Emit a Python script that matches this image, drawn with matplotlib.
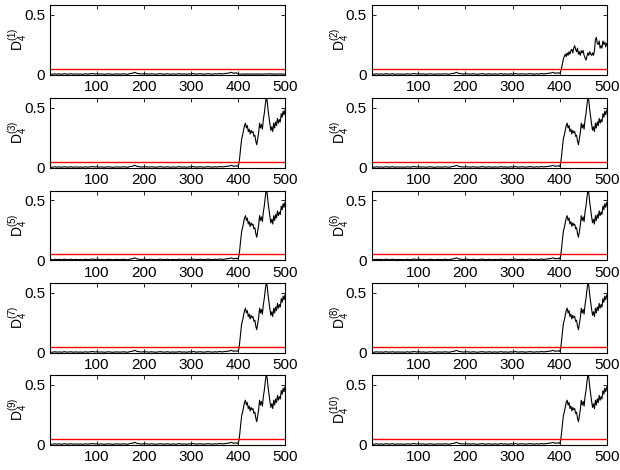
import numpy as np
import matplotlib
matplotlib.use('Agg')
import matplotlib.pyplot as plt

plt.rcParams['font.family'] = ['Liberation Sans', 'DejaVu Sans']
plt.rcParams['mathtext.fontset'] = 'custom'
plt.rcParams['mathtext.rm'] = 'Liberation Sans'
plt.rcParams['mathtext.it'] = 'Liberation Sans'

# sample positions: coarse before the change point, finer after it
x_low = np.arange(1, 400, 5)
x_high = np.arange(400, 501, 2)

# small noise before the change (shared by every panel)
low = [0.004, 0.002, 0.006, 0.003, 0.005, 0.002, 0.007, 0.003, 0.004, 0.006,
       0.002, 0.005, 0.003, 0.004, 0.002, 0.006, 0.003, 0.005, 0.008, 0.004,
       0.007, 0.003, 0.005, 0.002, 0.004, 0.006, 0.003, 0.002, 0.005, 0.004,
       0.003, 0.006, 0.004, 0.002, 0.008, 0.010, 0.018, 0.009, 0.006, 0.004,
       0.007, 0.005, 0.003, 0.006, 0.004, 0.002, 0.005, 0.007, 0.003, 0.004,
       0.006, 0.002, 0.005, 0.003, 0.004, 0.007, 0.003, 0.005, 0.002, 0.006,
       0.004, 0.008, 0.003, 0.005, 0.006, 0.003, 0.004, 0.007, 0.005, 0.003,
       0.006, 0.004, 0.008, 0.005, 0.007, 0.010, 0.012, 0.018, 0.010, 0.014]

tail_1 = [0.006, 0.003, 0.005, 0.002, 0.004, 0.003,
          0.005, 0.002, 0.004, 0.003, 0.006, 0.002, 0.004, 0.003, 0.005, 0.002,
          0.004, 0.003, 0.005, 0.002, 0.006, 0.003, 0.004, 0.002, 0.005, 0.003,
          0.004, 0.002, 0.005, 0.003, 0.004, 0.006, 0.003, 0.005, 0.008, 0.004,
          0.003, 0.005, 0.002, 0.004, 0.003, 0.005, 0.002, 0.004, 0.006, 0.003,
          0.005, 0.002, 0.004, 0.003, 0.005]

tail_2 = [0.01, 0.02, 0.05, 0.09, 0.13, 0.15,
          0.17, 0.15, 0.18, 0.16, 0.19, 0.17, 0.20, 0.21, 0.18, 0.22,
          0.24, 0.21, 0.19, 0.22, 0.17, 0.19, 0.16, 0.20, 0.18, 0.20,
          0.16, 0.14, 0.12, 0.15, 0.18, 0.16, 0.19, 0.17, 0.16, 0.18,
          0.16, 0.20, 0.29, 0.31, 0.26, 0.25, 0.28, 0.22, 0.24, 0.22,
          0.28, 0.25, 0.27, 0.23, 0.26]

tail_full = [0.01, 0.03, 0.09, 0.17, 0.24, 0.27,
             0.31, 0.35, 0.37, 0.33, 0.35, 0.30, 0.32, 0.28, 0.31, 0.29,
             0.30, 0.26, 0.27, 0.22, 0.19, 0.24, 0.29, 0.37, 0.33, 0.36,
             0.32, 0.40, 0.45, 0.52, 0.58, 0.56, 0.48, 0.42, 0.36, 0.31,
             0.34, 0.30, 0.37, 0.33, 0.38, 0.35, 0.41, 0.37, 0.40, 0.38,
             0.45, 0.42, 0.47, 0.44, 0.48]

threshold = 0.05
x_ticks = [100, 200, 300, 400, 500]
y_ticks = [0, 0.5]
y_tick_labels = ['0', '0.5']

xs = np.concatenate([x_low, x_high])
series = [low + tail_1, low + tail_2] + [low + tail_full] * 8

fig = plt.figure(figsize=(6.2, 4.7), dpi=100)
W, H = 620.0, 470.0
lefts = [50, 371.7]
width = 235
tops = [5, 98, 190.5, 283, 375]
height = 69.5

for k, ys in enumerate(series):
    row, col = k // 2, k % 2
    ax = fig.add_axes([lefts[col] / W, 1 - (tops[row] + height) / H, width / W, height / H])
    ax.plot(xs, ys, color='black', lw=0.8)
    ax.axhline(threshold, color='#ff0000', lw=1.0)
    ax.set_xlim(1, 500)
    ax.set_ylim(0, 0.58)
    ax.set_xticks(x_ticks)
    ax.set_yticks(y_ticks)
    ax.set_yticklabels(y_tick_labels)
    ax.tick_params(direction='in', top=True, right=True, labelsize=11,
                   length=3, width=0.6)
    ax.tick_params(axis='x', pad=4)
    ax.tick_params(axis='y', pad=3.5)
    for s in ax.spines.values():
        s.set_linewidth(0.8)
    ax.set_ylabel(r'$\mathrm{D}_4^{(%d)}$' % (k + 1), fontsize=10)
    ax.yaxis.set_label_coords(-0.085, 0.5)

fig.savefig('out.png', dpi=100)
